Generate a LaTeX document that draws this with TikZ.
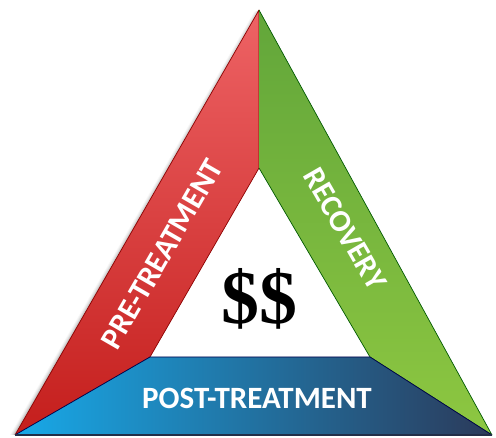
\documentclass[tikz,border=0pt]{standalone}
\usepackage{fontspec}
\newfontfamily\bandfont{Carlito}
\newfontfamily\cashfont{Liberation Serif}
\usetikzlibrary{calc}
\definecolor{redhi}{HTML}{EE6365}
\definecolor{redlo}{HTML}{C41E1C}
\definecolor{greenhi}{HTML}{62A63A}
\definecolor{greenlo}{HTML}{8DC741}
\definecolor{bluel}{HTML}{18A9E8}
\definecolor{bluem}{HTML}{2386C4}
\definecolor{bluer}{HTML}{2B3A5A}

\begin{document}
\begin{tikzpicture}[x=1pt,y=-1pt,
  band/.style={font=\bandfont\bfseries\fontsize{31}{31}\selectfont,text=white,inner sep=0pt},
  edge/.style={line width=0.7pt,line join=round}]
\useasboundingbox (0,0) rectangle (496,438);
% outer and inner corners of the ring
\coordinate (top) at (259,10);
\coordinate (mid) at (259,168);
\coordinate (ol) at (15,435);
\coordinate (or) at (492,435);
\coordinate (il) at (150,357);
\coordinate (ir) at (370,357);
% soft shadow on the left
\foreach \d/\o in {5/0.03,4/0.04,3/0.06,2/0.08,1/0.1}
  \fill[black,opacity=\o] ($(top)+(-\d,2)$) -- ($(ol)+(-\d,0)$) -- (ol) -- (top) -- cycle;
% three bands
\shade[top color=redhi,bottom color=redlo] (top) -- (mid) -- (il) -- (ol) -- cycle;
\draw[edge,red!55!black] (ol) -- (top) -- (mid) -- (il) -- (ol);
\shade[top color=greenhi,bottom color=greenlo] (top) -- (or) -- (ir) -- (mid) -- cycle;
\draw[edge,green!35!black] (top) -- (or) -- (ir) -- (mid);
\shade[left color=bluel,middle color=bluem,right color=bluer] (ol) -- (il) -- (ir) -- (or) -- cycle;
\draw[edge,blue!30!black] (ol) -- (il) -- (ir) -- (or);
\draw[line width=1.6pt,bluer!80!black] (ol) -- (or);
% labels
\node[band,rotate=60] (pre) at (162,254) {PRE-TREATMENT};
\node[band,rotate=-60] (rec) at (345,229) {RECOVERY};
\node[band] (post) at (257,398) {POST-TREATMENT};
\node[font=\cashfont\bfseries\fontsize{76}{76}\selectfont] (cash) at (259,299) {\$\$};
\end{tikzpicture}
\end{document}
